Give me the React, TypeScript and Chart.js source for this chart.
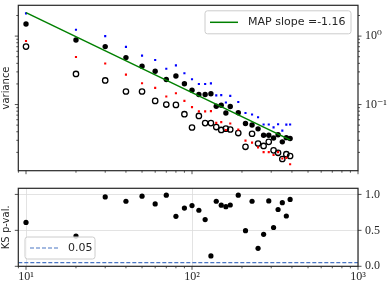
import React, { useEffect, useRef } from 'react';
import { Chart, registerables } from 'chart.js';

Chart.register(...registerables);

// ---------- data ----------
const N_VALUES = [10, 20, 30, 40, 50, 60, 70, 80, 90, 100, 110, 120, 130, 140, 150, 160, 170, 190, 210, 230, 250, 270, 290, 310, 330, 350, 370, 390];

const VAR_UPPER = [2.15, 1.24, 1.0, 0.697, 0.518, 0.447, 0.334, 0.374, 0.286, 0.234, 0.2, 0.2, 0.204, 0.136, 0.137, 0.107, 0.134, 0.109, 0.0751, 0.0715, 0.0652, 0.0511, 0.0511, 0.0463, 0.0514, 0.0416, 0.0509, 0.0511];
const VAR_MEAN = [1.5, 0.877, 0.703, 0.485, 0.364, 0.307, 0.232, 0.261, 0.201, 0.162, 0.14, 0.14, 0.1436, 0.0946, 0.0977, 0.0751, 0.0936, 0.0759, 0.0527, 0.0501, 0.0441, 0.0356, 0.0356, 0.0325, 0.0361, 0.0285, 0.0328, 0.0319];
const VAR_LOWER = [0.849, 0.495, 0.398, 0.274, 0.205, 0.175, 0.131, 0.146, 0.113, 0.0915, 0.0794, 0.0794, 0.0802, 0.054, 0.0553, 0.0425, 0.0528, 0.0429, 0.0297, 0.0278, 0.0237, 0.0202, 0.0202, 0.0183, 0.0202, 0.0163, 0.0166, 0.0134];
const VAR_EMPIRICAL = [0.703, 0.28, 0.225, 0.155, 0.155, 0.113, 0.1, 0.0987, 0.0722, 0.0462, 0.0681, 0.0535, 0.0535, 0.0469, 0.0425, 0.0444, 0.0432, 0.0383, 0.0241, 0.0374, 0.0269, 0.0248, 0.0285, 0.0214, 0.0197, 0.016, 0.0188, 0.0177];

const FIT_X = [10, 390];
const FIT_Y = [2.2, 0.0305];
const FIT_LABEL = 'MAP slope =-1.16';

const KS_PVAL = [0.61, 0.42, 0.965, 0.905, 0.975, 0.867, 0.99, 0.695, 0.81, 0.845, 0.78, 0.65, 0.145, 0.905, 0.85, 0.83, 0.853, 0.99, 0.495, 0.905, 0.25, 0.445, 0.91, 0.54, 0.79, 0.885, 0.7, 0.93];
const KS_THRESHOLD = 0.05;
const KS_LABEL = '0.05';

const X_MIN = 8.986;
const X_MAX = 1000;
const VAR_MIN = 0.01079;
const VAR_MAX = 2.82;
const P_MIN = 0;
const P_MAX = 1.085;
const P_TICKS = [0, 0.5, 1.0];

// ---------- helpers ----------
const SUP: Record<string, string> = { '0': '⁰', '1': '¹', '2': '²', '3': '³', '4': '⁴', '-': '⁻' };
const toSup = (s: string) => s.split('').map((c) => SUP[c] || c).join('');

function logTickList(min: number, max: number) {
  const out: { value: number; major: boolean }[] = [];
  const e0 = Math.floor(Math.log10(min));
  const e1 = Math.ceil(Math.log10(max));
  for (let e = e0; e <= e1; e++) {
    for (let m = 1; m < 10; m++) {
      const v = m * Math.pow(10, e);
      if (v >= min * 0.9999 && v <= max * 1.0001) out.push({ value: v, major: m === 1 });
    }
  }
  return out;
}

function pow10Label(v: number) {
  const l = Math.log10(v);
  if (Math.abs(l - Math.round(l)) < 1e-9) return '10' + toSup(String(Math.round(l)));
  return '';
}

const fixV = (w: number) => (s: any) => { s.width = w; s.paddingTop = 0; s.paddingBottom = 0; };
const fixH = (h: number) => (s: any) => { s.height = h; s.paddingLeft = 0; s.paddingRight = 0; };

const INK = '#262626';
const SERIF = "'Liberation Serif', 'DejaVu Serif', serif";
const SANS = "'DejaVu Sans', sans-serif";

function framePlugin(id: string, xId: string, yId: string, legend: (chart: any) => void) {
  return {
    id,
    afterDraw(chart: any) {
      const { ctx, chartArea: a } = chart;
      ctx.save();
      ctx.strokeStyle = INK;
      ctx.lineWidth = 0.8;
      const xs = chart.scales[xId];
      for (const t of xs.ticks) {
        const p = xs.getPixelForValue(t.value);
        const len = t.major ? 3.5 : 2;
        ctx.beginPath();
        ctx.moveTo(p, a.bottom);
        ctx.lineTo(p, a.bottom + len);
        ctx.stroke();
      }
      const ys = chart.scales[yId];
      for (const t of ys.ticks) {
        const p = ys.getPixelForValue(t.value);
        const len = t.major ? 3.5 : 2;
        ctx.beginPath();
        ctx.moveTo(a.left - len, p);
        ctx.lineTo(a.left, p);
        ctx.moveTo(a.right, p);
        ctx.lineTo(a.right + len, p);
        ctx.stroke();
      }
      ctx.lineWidth = 1.2;
      ctx.strokeRect(a.left, a.top, a.right - a.left, a.bottom - a.top);
      legend(chart);
      ctx.restore();
    },
  };
}

function legendBox(ctx: CanvasRenderingContext2D, x: number, y: number, w: number, h: number) {
  ctx.beginPath();
  (ctx as any).roundRect(x, y, w, h, 2.5);
  ctx.fillStyle = 'rgba(255,255,255,0.8)';
  ctx.fill();
  ctx.strokeStyle = '#cccccc';
  ctx.lineWidth = 1;
  ctx.stroke();
}

export default function App() {
  const topRef = useRef<HTMLCanvasElement>(null);
  const botRef = useRef<HTMLCanvasElement>(null);

  useEffect(() => {
    const pts = (ys: number[]) => N_VALUES.map((x, i) => ({ x, y: ys[i] }));

    const top = new Chart(topRef.current!, {
      type: 'scatter',
      data: {
        datasets: [
          {
            type: 'line',
            label: FIT_LABEL,
            data: FIT_X.map((x, i) => ({ x, y: FIT_Y[i] })),
            borderColor: '#008000',
            borderWidth: 1.5,
            pointRadius: 0,
            fill: false,
          } as any,
          {
            data: pts(VAR_MEAN),
            pointRadius: 2.7,
            pointBackgroundColor: '#000',
            pointBorderWidth: 0,
          },
          {
            data: pts(VAR_UPPER),
            pointStyle: 'rect',
            pointRadius: 1.5,
            pointBackgroundColor: '#0000ff',
            pointBorderWidth: 0,
          },
          {
            data: pts(VAR_LOWER),
            pointStyle: 'rect',
            pointRadius: 1.5,
            pointBackgroundColor: '#ff0000',
            pointBorderWidth: 0,
          },
          {
            data: pts(VAR_EMPIRICAL),
            pointRadius: 2.7,
            pointBackgroundColor: 'rgba(0,0,0,0)',
            pointBorderColor: '#000',
            pointBorderWidth: 1.3,
          },
        ],
      },
      options: {
        responsive: false,
        animation: false,
        events: [],
        layout: { padding: { top: 1.5, left: 0, right: 0, bottom: 0 } },
        plugins: { legend: { display: false }, tooltip: { enabled: false } },
        scales: {
          x: {
            type: 'logarithmic',
            position: 'bottom',
            min: X_MIN,
            max: X_MAX,
            afterBuildTicks: (s: any) => { s.ticks = logTickList(X_MIN, X_MAX); },
            ticks: { display: false },
            grid: { display: false, drawTicks: false },
            border: { display: false },
            afterFit: fixH(9.3),
          },
          y: {
            type: 'logarithmic',
            position: 'left',
            min: VAR_MIN,
            max: VAR_MAX,
            afterBuildTicks: (s: any) => { s.ticks = logTickList(VAR_MIN, VAR_MAX); },
            ticks: { display: false },
            grid: { display: false, drawTicks: false },
            border: { display: false },
            title: { display: true, text: 'variance', color: INK, font: { family: SANS, size: 10 }, padding: { top: 0, bottom: 0 } },
            afterFit: fixV(18.3),
          },
          y2: {
            type: 'logarithmic',
            position: 'right',
            min: VAR_MIN,
            max: VAR_MAX,
            afterBuildTicks: (s: any) => { s.ticks = logTickList(VAR_MIN, VAR_MAX); },
            ticks: {
              autoSkip: false,
              padding: 7,
              color: INK,
              font: { family: SERIF, size: 12 },
              callback: (v: any) => pow10Label(Number(v)),
            },
            grid: { display: false, drawTicks: false },
            border: { display: false },
            afterFit: fixV(32),
          },
        },
      } as any,
      plugins: [
        framePlugin('frameTop', 'x', 'y', (chart: any) => {
          const { ctx, chartArea: a } = chart;
          const w = 146, h = 23;
          const x = a.right - 7 - w, y = a.top + 5.5;
          legendBox(ctx, x, y, w, h);
          const cy = y + h / 2;
          ctx.strokeStyle = '#008000';
          ctx.lineWidth = 1.5;
          ctx.beginPath();
          ctx.moveTo(x + 5, cy);
          ctx.lineTo(x + 33, cy);
          ctx.stroke();
          ctx.fillStyle = INK;
          ctx.font = `11px ${SANS}`;
          ctx.textBaseline = 'middle';
          ctx.textAlign = 'left';
          ctx.fillText(FIT_LABEL, x + 43, cy);
        }),
      ],
    });

    const bot = new Chart(botRef.current!, {
      type: 'scatter',
      data: {
        datasets: [
          {
            type: 'line',
            label: KS_LABEL,
            data: [{ x: X_MIN, y: KS_THRESHOLD }, { x: X_MAX, y: KS_THRESHOLD }],
            borderColor: '#4a76c4',
            borderWidth: 1.2,
            borderDash: [4, 2],
            pointRadius: 0,
            fill: false,
          } as any,
          {
            data: N_VALUES.map((x, i) => ({ x, y: KS_PVAL[i] })),
            pointRadius: 2.6,
            pointBackgroundColor: '#000',
            pointBorderWidth: 0,
          },
        ],
      },
      options: {
        responsive: false,
        animation: false,
        events: [],
        layout: { padding: { top: 8.3, left: 0, right: 0, bottom: 0 } },
        plugins: { legend: { display: false }, tooltip: { enabled: false } },
        scales: {
          x: {
            type: 'logarithmic',
            position: 'bottom',
            min: X_MIN,
            max: X_MAX,
            afterBuildTicks: (s: any) => { s.ticks = logTickList(X_MIN, X_MAX); },
            ticks: {
              autoSkip: false,
              maxRotation: 0,
              padding: 3,
              color: INK,
              font: { family: SERIF, size: 12 },
              callback: (v: any) => pow10Label(Number(v)),
            },
            grid: {
              display: true,
              drawTicks: false,
              lineWidth: 0.8,
              color: (c: any) => (c.tick && c.tick.major ? '#dcdcdc' : 'rgba(0,0,0,0)'),
            },
            border: { display: false },
            afterFit: fixH(17.7),
          },
          y: {
            type: 'linear',
            position: 'left',
            min: P_MIN,
            max: P_MAX,
            afterBuildTicks: (s: any) => { s.ticks = P_TICKS.map((v) => ({ value: v, major: true })); },
            ticks: { display: false },
            grid: { display: true, drawTicks: false, lineWidth: 0.8, color: '#dcdcdc' },
            border: { display: false },
            title: { display: true, text: 'KS p-val.', color: INK, font: { family: SANS, size: 10 }, padding: { top: 0, bottom: 0 } },
            afterFit: fixV(18.3),
          },
          y2: {
            type: 'linear',
            position: 'right',
            min: P_MIN,
            max: P_MAX,
            afterBuildTicks: (s: any) => { s.ticks = P_TICKS.map((v) => ({ value: v, major: true })); },
            ticks: {
              autoSkip: false,
              padding: 7,
              color: INK,
              font: { family: SERIF, size: 12 },
              callback: (v: any) => Number(v).toFixed(1),
            },
            grid: { display: false, drawTicks: false },
            border: { display: false },
            afterFit: fixV(32),
          },
        },
      } as any,
      plugins: [
        framePlugin('frameBot', 'x', 'y', (chart: any) => {
          const { ctx, chartArea: a } = chart;
          const w = 70, h = 22;
          const x = a.left + 6.7, y = a.bottom - 7.3 - h;
          legendBox(ctx, x, y, w, h);
          const cy = y + h / 2;
          ctx.strokeStyle = '#4a76c4';
          ctx.lineWidth = 1.2;
          ctx.setLineDash([4, 2]);
          ctx.beginPath();
          ctx.moveTo(x + 5, cy);
          ctx.lineTo(x + 33, cy);
          ctx.stroke();
          ctx.setLineDash([]);
          ctx.fillStyle = INK;
          ctx.font = `11px ${SANS}`;
          ctx.textBaseline = 'middle';
          ctx.textAlign = 'left';
          ctx.fillText(KS_LABEL, x + 43, cy);
        }),
      ],
    });

    return () => {
      top.destroy();
      bot.destroy();
    };
  }, []);

  return (
    <div style={{ position: 'absolute', left: 0, top: 0, width: 390, height: 284, background: '#fff' }}>
      <canvas ref={topRef} width={390} height={180} style={{ position: 'absolute', left: 0, top: 0 }} />
      <canvas ref={botRef} width={390} height={104} style={{ position: 'absolute', left: 0, top: 180 }} />
    </div>
  );
}
